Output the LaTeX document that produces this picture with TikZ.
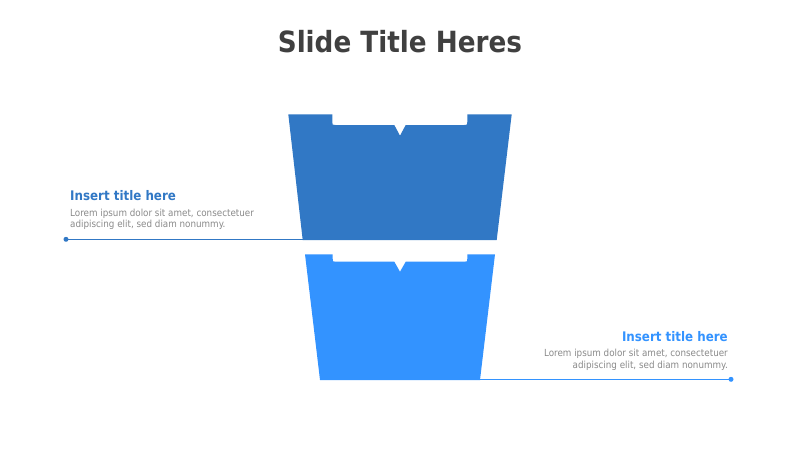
\documentclass[tikz,border=0pt]{standalone}
\usepackage{fontspec}
\setmainfont{DejaVu Sans Condensed}
\definecolor{cupA}{HTML}{3178C5}
\definecolor{cupB}{HTML}{3393FF}
\definecolor{titlegray}{HTML}{404040}
\definecolor{bodygray}{HTML}{8A8A8A}
\begin{document}
\begin{tikzpicture}[x=1pt,y=-1pt,
  bodytext/.style={inner sep=0pt,font=\fontsize{9.75}{12}\selectfont,text=bodygray},
  headtext/.style={inner sep=0pt,font=\fontsize{13.2}{15}\selectfont\bfseries},
  leader/.style={line width=1.5pt},
  dotmark/.style={circle,inner sep=0pt,minimum size=5pt}]
\useasboundingbox[fill=white] (0,0) rectangle (800,450);
% title
\node[inner sep=0pt,anchor=base,text=titlegray,font=\fontsize{29.2}{31}\selectfont\bfseries] (title) at (400,52) {Slide Title Heres};
% top cup
\fill[cupA] (288.3,114.3) -- (332.3,114.3) -- (332.3,122) .. controls (332.3,125) .. (335.3,125)
  -- (394.3,125) -- (400,135.7) -- (405.7,125) -- (464.3,125) .. controls (467.3,125) .. (467.3,122)
  -- (467.3,114.3) -- (511.7,114.3) -- (496.7,240) -- (302.7,240) -- cycle;
% bottom cup
\fill[cupB] (305,254.3) -- (332.7,254.3) -- (332.7,258.7) .. controls (332.7,261.7) .. (335.7,261.7)
  -- (394.3,261.7) -- (400,271.7) -- (405.7,261.7) -- (464.3,261.7) .. controls (467.3,261.7) .. (467.3,258.7)
  -- (467.3,254.3) -- (495,254.3) -- (480,380) -- (320,380) -- cycle;
\coordinate (c1) at (303.2,239.3);
\coordinate (c2) at (479.5,379.3);
% left callout
\node[dotmark,fill=cupA] (d1) at (66,239.3) {};
\draw[leader,cupA] (d1.center) -- (c1);
\node[headtext,text=cupA,anchor=base west] (h1) at (70,200.7) {Insert title here};
\node[bodytext,anchor=base west] (b1a) at (70,216) {Lorem ipsum dolor sit amet, consectetuer};
\node[bodytext,anchor=base west] (b1b) at (70,227.5) {adipiscing elit, sed diam nonummy.};
% right callout
\node[dotmark,fill=cupB] (d2) at (731,379.3) {};
\draw[leader,cupB] (c2) -- (d2.center);
\node[headtext,text=cupB,anchor=base east] (h2) at (728,341.7) {Insert title here};
\node[bodytext,anchor=base east] (b2a) at (728,356.7) {Lorem ipsum dolor sit amet, consectetuer};
\node[bodytext,anchor=base east] (b2b) at (728,368.3) {adipiscing elit, sed diam nonummy.};
\end{tikzpicture}
\end{document}
